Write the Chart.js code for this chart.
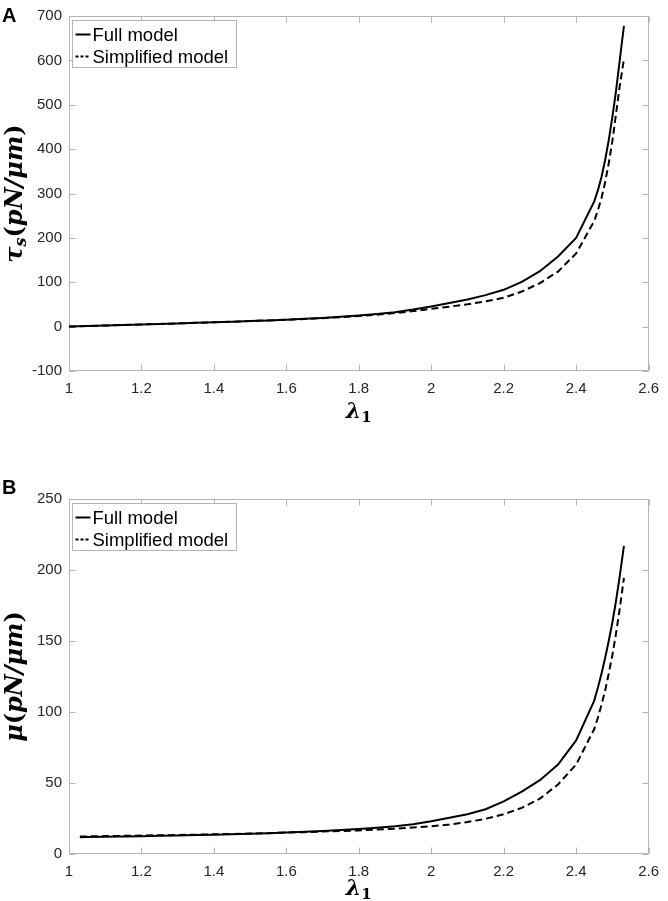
<!DOCTYPE html>
<html><head><meta charset="utf-8">
<script src="https://cdn.jsdelivr.net/npm/chart.js@4/dist/chart.umd.min.js"></script>
<style>
html,body{margin:0;padding:0;background:#fff;}
#wrap{position:relative;width:668px;height:901px;overflow:hidden;}
canvas{position:absolute;left:0;}
.panel{position:absolute;left:2px;font:bold 20px "Liberation Sans",Arial,sans-serif;color:#000;}
</style></head><body>
<div id="wrap">
<canvas id="cA" width="668" height="440" style="top:0;width:668px;height:440px"></canvas>
<canvas id="cB" width="668" height="461" style="top:440px;width:668px;height:461px"></canvas>
<div class="panel" style="top:4px">A</div>
<div class="panel" style="top:476px">B</div>
</div>
<script>
// ---------- data ----------
const seriesLabels = ['Full model', 'Simplified model'];
const xTicks = [1, 1.2, 1.4, 1.6, 1.8, 2, 2.2, 2.4, 2.6];
const yTicksA = [-100, 0, 100, 200, 300, 400, 500, 600, 700];
const yTicksB = [0, 50, 100, 150, 200, 250];

const lambdaA = [1.00,1.05,1.10,1.15,1.20,1.25,1.30,1.35,1.40,1.45,1.50,1.55,1.60,1.65,1.70,1.75,1.80,1.85,1.90,1.95,2.00,2.05,2.10,2.15,2.20,2.25,2.30,2.35,2.40,2.45,2.46,2.47,2.48,2.49,2.50,2.51,2.52,2.532];
const fullA = [0,1.3,2.5,3.7,4.9,6.1,7.3,8.5,9.8,11.1,12.5,14.0,15.6,17.5,19.6,22.0,25.0,28.5,32.5,38.5,45.5,53,61,71,83,101,125,158,200,282,307,337,375,420,472,530,598,678];
const simpA = [0,1.3,2.5,3.7,4.9,6.1,7.3,8.5,9.8,11.1,12.5,14.0,15.5,17.2,19.1,21.3,24.0,27.0,30.5,35.0,40.0,45.0,50.5,57,65,79,98,124,165,238,262,290,325,368,418,478,540,603];

const lambdaB = [1.03,1.05,1.10,1.15,1.20,1.25,1.30,1.35,1.40,1.45,1.50,1.55,1.60,1.65,1.70,1.75,1.80,1.85,1.90,1.95,2.00,2.05,2.10,2.15,2.20,2.25,2.30,2.35,2.40,2.45,2.46,2.47,2.48,2.49,2.50,2.51,2.52,2.532];
const fullB = [11.8,11.9,12.1,12.3,12.5,12.8,13.0,13.3,13.6,13.9,14.3,14.7,15.2,15.7,16.2,16.9,17.6,18.5,19.5,21.0,23.0,25.5,28.0,31.5,37,44,52,63,80,108,117,127,138,150,163,178,195,217];
const simpB = [12.3,12.4,12.6,12.8,13.0,13.2,13.4,13.6,13.9,14.1,14.4,14.7,15.1,15.4,15.8,16.2,16.6,17.2,17.8,18.6,19.5,20.8,22.5,24.8,28,32.5,39,49,63,88,96,105,115,127,140,155,172,194.5];

// ---------- styling ----------
const FRAME = '#b4b4b4';
const TICKCOL = '#262626';
const TICKFONT = {family: '"Liberation Sans", Arial, sans-serif', size: 15};
const SERIF = '"DejaVu Serif", serif';

function pts(xs, ys){ return xs.map((x,i)=>({x:x, y:ys[i]})); }

function drawRich(ctx, segs, cx, cy, rot){
  ctx.save();
  ctx.translate(cx, cy);
  if (rot) ctx.rotate(-Math.PI/2);
  let total = 0;
  segs.forEach(s=>{ ctx.font = s.f; s.w = ctx.measureText(s.t).width; total += s.w; });
  let x = -total/2;
  ctx.textBaseline = 'alphabetic';
  ctx.fillStyle = '#000';
  segs.forEach(s=>{ ctx.font = s.f; ctx.fillText(s.t, x, s.dy||0); x += s.w; });
  ctx.restore();
}

const framePlugin = {
  id: 'frame',
  beforeDatasetsDraw(chart){
    const {ctx, chartArea:a, scales} = chart;
    ctx.save();
    ctx.strokeStyle = FRAME; ctx.lineWidth = 1;
    const L = Math.round(a.left)+0.5, R = Math.round(a.right)-0.5, T = Math.round(a.top)+0.5, B = Math.round(a.bottom)-0.5;
    ctx.strokeRect(L, T, R-L, B-T);
    const len = 6;
    ctx.beginPath();
    scales.x.ticks.forEach(t=>{
      const p = Math.round(scales.x.getPixelForValue(t.value))+0.5;
      ctx.moveTo(p, B); ctx.lineTo(p, B-len);
      ctx.moveTo(p, T); ctx.lineTo(p, T+len);
    });
    scales.y.ticks.forEach(t=>{
      const p = Math.round(scales.y.getPixelForValue(t.value))+0.5;
      ctx.moveTo(L, p); ctx.lineTo(L+len, p);
      ctx.moveTo(R, p); ctx.lineTo(R-len, p);
    });
    ctx.stroke();
    ctx.restore();
  }
};

const legendPlugin = {
  id: 'boxLegend',
  afterDatasetsDraw(chart){
    const {ctx, chartArea:a} = chart;
    const x0 = Math.round(a.left)+3.5, y0 = Math.round(a.top)+4.5, w = 164, h = 47;
    ctx.save();
    ctx.fillStyle = '#fff'; ctx.fillRect(x0, y0, w, h);
    ctx.strokeStyle = FRAME; ctx.lineWidth = 1; ctx.strokeRect(x0, y0, w, h);
    ctx.font = '18.5px "Liberation Sans", Arial, sans-serif';
    ctx.textBaseline = 'middle';
    chart.data.datasets.forEach((ds,i)=>{
      const yy = y0 + 14 + i*22;
      ctx.strokeStyle = ds.borderColor; ctx.lineWidth = 2;
      ctx.setLineDash(ds.borderDash && ds.borderDash.length ? [3,2] : []);
      ctx.beginPath(); ctx.moveTo(x0+3, yy); ctx.lineTo(x0+18, yy); ctx.stroke();
      ctx.setLineDash([]);
      ctx.fillStyle = '#000';
      ctx.fillText(ds.label, x0+20, yy+1);
    });
    ctx.restore();
  }
};

const titlePlugin = {
  id: 'axTitles',
  afterDraw(chart, args, opts){
    const {ctx, chartArea:a} = chart;
    const cxm = (a.left + a.right)/2, cym = (a.top + a.bottom)/2;
    drawRich(ctx, opts.x, cxm, a.bottom + opts.xOff, false);
    drawRich(ctx, opts.y, 22, cym, true);
  }
};

function makeChart(id, xs, ys1, ys2, yTicks, ymin, ymax, padTop, xAxisH, yTitle, xOff){
  return new Chart(document.getElementById(id), {
    type: 'line',
    data: {
      datasets: [
        {label: seriesLabels[0], data: pts(xs, ys1), borderColor: '#000', borderWidth: 2, pointRadius: 0, tension: 0, fill: false},
        {label: seriesLabels[1], data: pts(xs, ys2), borderColor: '#000', borderWidth: 2, borderDash: [7,4], pointRadius: 0, tension: 0, fill: false}
      ]
    },
    options: {
      responsive: false, animation: false, devicePixelRatio: window.devicePixelRatio || 1,
      layout: {padding: {top: padTop, right: 10, left: 0, bottom: 0}},
      plugins: {
        legend: {display: false}, tooltip: {enabled: false},
        axTitles: {
          x: [{t:'λ', f:'bold italic 22px '+SERIF}, {t:'1', f:'bold 15px '+SERIF, dy:4}],
          y: yTitle, xOff: xOff
        }
      },
      scales: {
        x: {
          type: 'linear', min: 1, max: 2.6,
          afterBuildTicks: s => { s.ticks = xTicks.map(v=>({value:v})); },
          afterFit: s => { s.height = xAxisH; },
          grid: {display: false, drawTicks: false, tickLength: 0}, border: {display: false},
          ticks: {color: TICKCOL, font: TICKFONT, padding: 9, maxRotation: 0, callback: v => String(v)}
        },
        y: {
          type: 'linear', min: ymin, max: ymax,
          afterBuildTicks: s => { s.ticks = yTicks.map(v=>({value:v})); },
          afterFit: s => { s.width = 69; },
          grid: {display: false, drawTicks: false, tickLength: 0}, border: {display: false},
          ticks: {color: TICKCOL, font: TICKFONT, padding: 7, callback: v => String(v)}
        }
      }
    },
    plugins: [framePlugin, legendPlugin, titlePlugin]
  });
}

const yTitleA = [
  {t:'τ', f:'bold italic 24px '+SERIF},
  {t:'s', f:'bold italic 16px '+SERIF, dy:4},
  {t:'(', f:'bold 24px '+SERIF},
  {t:'pN/μm', f:'bold italic 24px '+SERIF},
  {t:')', f:'bold 24px '+SERIF}
];
const yTitleB = [
  {t:'μ', f:'bold italic 24px '+SERIF},
  {t:'(', f:'bold 24px '+SERIF},
  {t:'pN/μm', f:'bold italic 24px '+SERIF},
  {t:')', f:'bold 24px '+SERIF}
];

makeChart('cA', lambdaA, fullA, simpA, yTicksA, -100, 700, 15, 69, yTitleA, 47);
makeChart('cB', lambdaB, fullB, simpB, yTicksB, 0, 250, 59, 47, yTitleB, 41);
</script>
</body></html>
